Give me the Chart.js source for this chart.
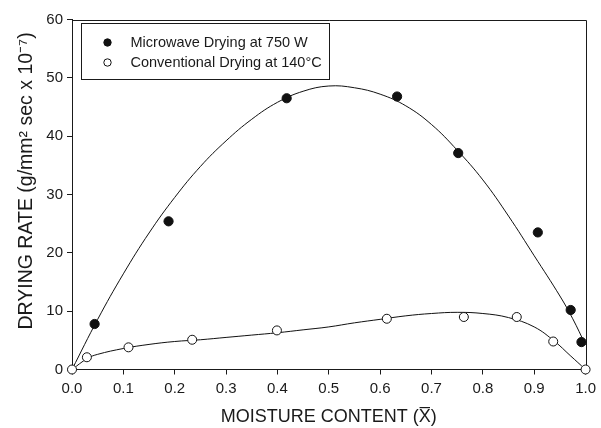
<!DOCTYPE html>
<html lang="en">
<head>
  <meta charset="UTF-8">
  <title>Drying Rate vs Moisture Content</title>
  <script src="https://cdn.jsdelivr.net/npm/chart.js"></script>
  <style>
    html, body { margin: 0; padding: 0; background: #fff; }
    canvas { display: block; }
  </style>
</head>
<body>
  <canvas id="dryingChart" width="601" height="428"></canvas>

  <script>
    const microX = [0.044, 0.188, 0.418, 0.633, 0.752, 0.907, 0.971, 0.992];
    const microY = [7.8, 25.4, 46.5, 46.8, 37.1, 23.5, 10.2, 4.7];
    const convX = [0, 0.029, 0.110, 0.234, 0.399, 0.613, 0.763, 0.866, 0.937, 1.0];
    const convY = [0, 2.1, 3.8, 5.1, 6.7, 8.7, 9.0, 9.0, 4.8, 0];

    // fitted curves
    const microFitX = [0, 0.05, 0.1, 0.15, 0.2, 0.25, 0.3, 0.35, 0.4, 0.45, 0.5, 0.55, 0.6, 0.65, 0.7, 0.75, 0.8, 0.85, 0.9, 0.95, 0.975, 1.0];
    const microFitY = [0, 8.6, 16.4, 23.4, 29.5, 34.8, 39.2, 42.9, 45.8, 47.7, 48.6, 48.3, 47.2, 45.2, 42.0, 37.6, 32.5, 26.3, 19.5, 12.6, 8.7, 4.2];
    const convFitX = [0, 0.03, 0.05, 0.1, 0.15, 0.2, 0.25, 0.3, 0.35, 0.4, 0.45, 0.5, 0.55, 0.6, 0.65, 0.7, 0.75, 0.8, 0.85, 0.9, 0.94, 0.97, 1.0];
    const convFitY = [0, 1.9, 2.6, 3.6, 4.3, 4.8, 5.1, 5.5, 5.9, 6.3, 6.8, 7.3, 8.0, 8.6, 9.2, 9.6, 9.8, 9.6, 8.9, 7.3, 4.8, 2.4, 0];

    const xTicks = [0, 0.1, 0.2, 0.3, 0.4, 0.5, 0.6, 0.7, 0.8, 0.9, 1.0];
    const xTickLabels = ['0.0', '0.1', '0.2', '0.3', '0.4', '0.5', '0.6', '0.7', '0.8', '0.9', '1.0'];
    const yTicks = [0, 10, 20, 30, 40, 50, 60];
    const yTickLabels = ['0', '10', '20', '30', '40', '50', '60'];

    const FONT = "'Liberation Sans', Arial, sans-serif";
    const INK = '#1a1a1a';

    function pts(xs, ys) {
      return xs.map((x, i) => ({ x: x, y: ys[i] }));
    }

    // box around the plot plus the legend inside it
    const frameAndLegend = {
      id: 'frameAndLegend',
      beforeDatasetsDraw(chart) {
        const { ctx, chartArea: a } = chart;
        ctx.save();
        ctx.strokeStyle = INK;
        ctx.lineWidth = 1;
        ctx.beginPath();
        ctx.moveTo(a.left, Math.round(a.top) + 0.5);
        ctx.lineTo(Math.round(a.right) + 0.5, Math.round(a.top) + 0.5);
        ctx.lineTo(Math.round(a.right) + 0.5, a.bottom);
        ctx.stroke();
        ctx.restore();
      },
      afterDatasetsDraw(chart) {
        const { ctx, chartArea: a } = chart;
        const x0 = Math.round(a.left + 9) + 0.5;
        const y0 = Math.round(a.top + 3) + 0.5;
        ctx.save();
        ctx.fillStyle = '#fff';
        ctx.strokeStyle = INK;
        ctx.lineWidth = 1;
        ctx.fillRect(x0, y0, 248, 56);
        ctx.strokeRect(x0, y0, 248, 56);
        ctx.font = '14.5px ' + FONT;
        ctx.textBaseline = 'middle';
        [0, 1].forEach(i => {
          const ds = chart.data.datasets[i];
          const cy = y0 + 19 + i * 20;
          ctx.beginPath();
          ctx.arc(x0 + 26, cy, 3.7, 0, Math.PI * 2);
          ctx.fillStyle = ds.backgroundColor;
          ctx.fill();
          ctx.strokeStyle = ds.borderColor;
          ctx.stroke();
          ctx.fillStyle = INK;
          ctx.fillText(ds.label, x0 + 49, cy);
        });
        ctx.restore();
      }
    };

    const ctx = document.getElementById('dryingChart').getContext('2d');
    new Chart(ctx, {
      type: 'scatter',
      data: {
        datasets: [
          {
            label: 'Microwave Drying at 750 W',
            data: pts(microX, microY),
            pointRadius: 4.6,
            backgroundColor: '#111',
            borderColor: '#111',
            borderWidth: 1,
            clip: false
          },
          {
            label: 'Conventional Drying at 140°C',
            data: pts(convX, convY),
            pointRadius: 4.5,
            backgroundColor: '#fff',
            borderColor: '#111',
            borderWidth: 1,
            clip: false
          },
          {
            label: 'microwave fit',
            data: pts(microFitX, microFitY),
            showLine: true,
            pointRadius: 0,
            borderColor: '#111',
            borderWidth: 1,
            tension: 0.4
          },
          {
            label: 'conventional fit',
            data: pts(convFitX, convFitY),
            showLine: true,
            pointRadius: 0,
            borderColor: '#111',
            borderWidth: 1,
            tension: 0.4
          }
        ]
      },
      options: {
        responsive: false,
        animation: false,
        layout: { padding: { top: 19.5, right: 11, left: 0, bottom: 0 } },
        plugins: {
          legend: { display: false },
          tooltip: { enabled: false }
        },
        scales: {
          x: {
            type: 'linear',
            min: 0,
            max: 1,
            afterBuildTicks: s => { s.ticks = xTicks.map(v => ({ value: v })); },
            afterFit: s => { s.height = 58.5; },
            ticks: {
              callback: (v, i) => xTickLabels[i],
              font: { family: FONT, size: 15 },
              color: INK,
              padding: 5,
              maxRotation: 0,
              autoSkip: false
            },
            grid: { display: true, drawOnChartArea: false, drawTicks: true, tickLength: 5, color: INK },
            border: { color: INK, width: 1 },
            title: {
              display: true,
              text: 'MOISTURE CONTENT (X\u0305)',
              font: { family: FONT, size: 18 },
              color: INK,
              padding: { top: 0, bottom: 0 }
            }
          },
          y: {
            min: 0,
            max: 60,
            afterBuildTicks: s => { s.ticks = yTicks.map(v => ({ value: v })); },
            afterFit: s => { s.width = 72; },
            ticks: {
              callback: (v, i) => yTickLabels[i],
              font: { family: FONT, size: 15 },
              color: INK,
              padding: 4
            },
            grid: { display: true, drawOnChartArea: false, drawTicks: true, tickLength: 5, color: INK },
            border: { color: INK, width: 1 },
            title: {
              display: true,
              // leading spaces push the centred title up a little, as in the original
              text: '     DRYING RATE (g/mm² sec x 10⁻⁷)',
              font: { family: FONT, size: 19.5 },
              color: INK,
              padding: { top: 15, bottom: 0 }
            }
          }
        }
      },
      plugins: [frameAndLegend]
    });
  </script>
</body>
</html>
